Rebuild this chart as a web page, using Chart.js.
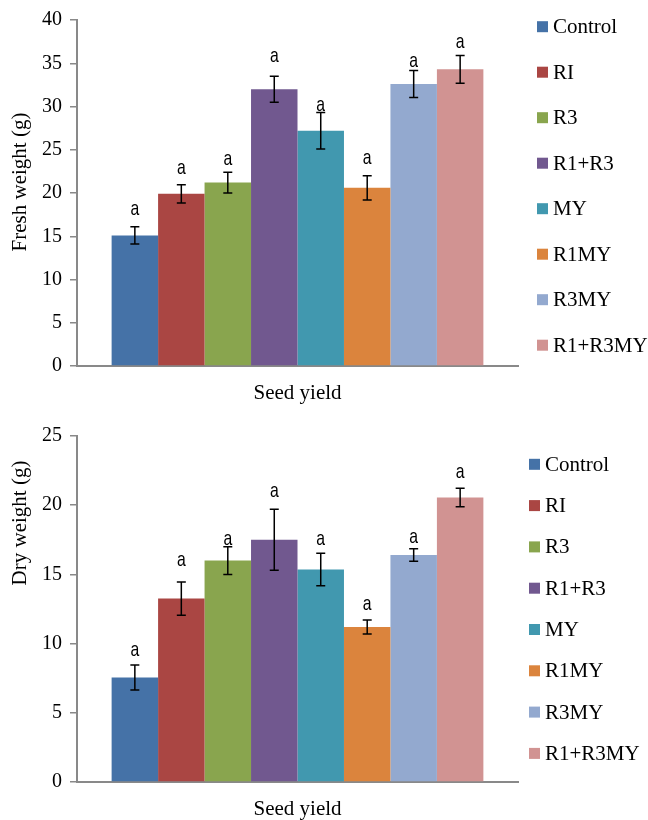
<!DOCTYPE html>
<html lang="en">
<head>
    <meta charset="UTF-8">
    <title>Seed yield - fresh and dry weight</title>
    <style>
        body { margin: 0; background: #ffffff; }
        .box { width: 648px; height: 410px; }
        canvas { display: block; }
    </style>
</head>
<body>
    <div class="box"><canvas id="freshChart" width="648" height="410"></canvas></div>
    <div class="box"><canvas id="dryChart" width="648" height="410"></canvas></div>

    <script src="https://cdn.jsdelivr.net/npm/chart.js"></script>
    <script>
        // data
        const categories = ['Seed yield'];
        const treatments = ['Control', 'RI', 'R3', 'R1+R3', 'MY', 'R1MY', 'R3MY', 'R1+R3MY'];
        const barColors = ['#4572A7', '#AA4643', '#89A54E', '#71588F', '#4198AF', '#DB843D', '#93A9CF', '#D19392'];

        const freshValues = [15.1, 19.9, 21.2, 32.0, 27.2, 20.6, 32.6, 34.3];
        const freshErrors = [1.0, 1.05, 1.2, 1.5, 2.1, 1.4, 1.55, 1.6];
        const freshLetters = ['a', 'a', 'a', 'a', 'a', 'a', 'a', 'a'];
        const freshLetterAt = [17.45, 22.2, 23.2, 35.2, 29.45, 23.4, 34.6, 36.75];
        const freshTicks = { min: 0, max: 40, step: 5 };

        const dryValues = [7.55, 13.25, 16.0, 17.5, 15.35, 11.2, 16.4, 20.55];
        const dryErrors = [0.9, 1.2, 1.0, 2.2, 1.17, 0.5, 0.45, 0.67];
        const dryLetters = ['a', 'a', 'a', 'a', 'a', 'a', 'a', 'a'];
        const dryLetterAt = [9.07, 15.6, 17.13, 20.58, 17.13, 12.44, 17.3, 21.95];
        const dryTicks = { min: 0, max: 25, step: 5 };

        const serif = "'Liberation Serif', 'Times New Roman', serif";

        // error bars + letters above bars
        const errorBarPlugin = {
            id: 'errorBars',
            afterDatasetsDraw(chart, args, opts) {
                const ctx = chart.ctx;
                const y = chart.scales.y;
                ctx.save();
                chart.data.datasets.forEach((ds, i) => {
                    const bar = chart.getDatasetMeta(i).data[0];
                    const v = ds.data[0];
                    const e = opts.errors[i];
                    const top = y.getPixelForValue(v + e);
                    const bottom = y.getPixelForValue(v - e);
                    ctx.strokeStyle = '#000';
                    ctx.lineWidth = 1.5;
                    ctx.beginPath();
                    ctx.moveTo(bar.x, top);
                    ctx.lineTo(bar.x, bottom);
                    ctx.moveTo(bar.x - 4.5, top);
                    ctx.lineTo(bar.x + 4.5, top);
                    ctx.moveTo(bar.x - 4.5, bottom);
                    ctx.lineTo(bar.x + 4.5, bottom);
                    ctx.stroke();

                    const ly = y.getPixelForValue(opts.letterAt[i]);
                    ctx.save();
                    ctx.translate(bar.x, ly);
                    ctx.scale(0.75, 1);
                    ctx.fillStyle = '#000';
                    ctx.font = "21px 'Liberation Sans', Arial, sans-serif";
                    ctx.textAlign = 'center';
                    ctx.textBaseline = 'alphabetic';
                    ctx.fillText(opts.letters[i], 0, 0);
                    ctx.restore();
                });
                ctx.restore();
            }
        };

        // legend on the right and the rotated y title
        const sideTextPlugin = {
            id: 'sideText',
            afterDraw(chart, args, opts) {
                const ctx = chart.ctx;
                ctx.save();
                ctx.font = '21px ' + serif;
                ctx.fillStyle = '#000';
                ctx.textBaseline = 'middle';
                ctx.textAlign = 'left';
                chart.data.datasets.forEach((ds, i) => {
                    const cy = opts.legendY + i * opts.legendStep;
                    ctx.fillStyle = ds.backgroundColor;
                    ctx.fillRect(opts.legendX, cy - 5.5, 11, 11);
                    ctx.fillStyle = '#000';
                    ctx.fillText(ds.label, opts.legendX + 16, cy + 1);
                });
                ctx.translate(opts.titleX, opts.titleY);
                ctx.rotate(-Math.PI / 2);
                ctx.textAlign = 'center';
                ctx.fillText(opts.title, 0, 0);
                ctx.restore();
            }
        };

        function makeChart(id, values, errors, letters, letterAt, ticks, cfg) {
            const datasets = treatments.map((name, i) => ({
                label: name,
                data: [values[i]],
                backgroundColor: barColors[i],
                borderWidth: 0,
                categoryPercentage: 0.843,
                barPercentage: 1.0
            }));
            return new Chart(document.getElementById(id), {
                type: 'bar',
                data: { labels: categories, datasets: datasets },
                plugins: [errorBarPlugin, sideTextPlugin],
                options: {
                    responsive: false,
                    animation: false,
                    layout: { padding: { left: 0, right: 130, top: cfg.padTop, bottom: 0 } },
                    plugins: {
                        legend: { display: false },
                        tooltip: { enabled: false },
                        errorBars: { errors: errors, letters: letters, letterAt: letterAt },
                        sideText: {
                            legendX: cfg.legendX, legendY: cfg.legendY, legendStep: cfg.legendStep,
                            title: cfg.title, titleX: 20, titleY: cfg.titleY
                        }
                    },
                    scales: {
                        x: {
                            grid: { display: false, drawTicks: false },
                            border: { display: true, color: '#898989', width: 2 },
                            ticks: { color: '#000', padding: 15, font: { family: serif, size: 21 } },
                            afterFit(scale) { scale.height = cfg.xHeight; }
                        },
                        y: {
                            min: ticks.min,
                            max: ticks.max,
                            ticks: { stepSize: ticks.step, color: '#000', padding: 8, font: { family: serif, size: 20 } },
                            grid: { display: true, drawOnChartArea: false, drawTicks: true, tickLength: 7, color: '#898989', lineWidth: 1.5 },
                            border: { display: true, color: '#898989', width: 2 },
                            afterFit(scale) { scale.width = 77; }
                        }
                    }
                }
            });
        }

        makeChart('freshChart', freshValues, freshErrors, freshLetters, freshLetterAt, freshTicks, {
            padTop: 18, xHeight: 44, legendX: 537, legendY: 26.7, legendStep: 45.5,
            title: 'Fresh weight (g)', titleY: 182
        });
        makeChart('dryChart', dryValues, dryErrors, dryLetters, dryLetterAt, dryTicks, {
            padTop: 26, xHeight: 38, legendX: 529, legendY: 54.3, legendStep: 41.3,
            title: 'Dry weight (g)', titleY: 113
        });
    </script>
</body>
</html>
